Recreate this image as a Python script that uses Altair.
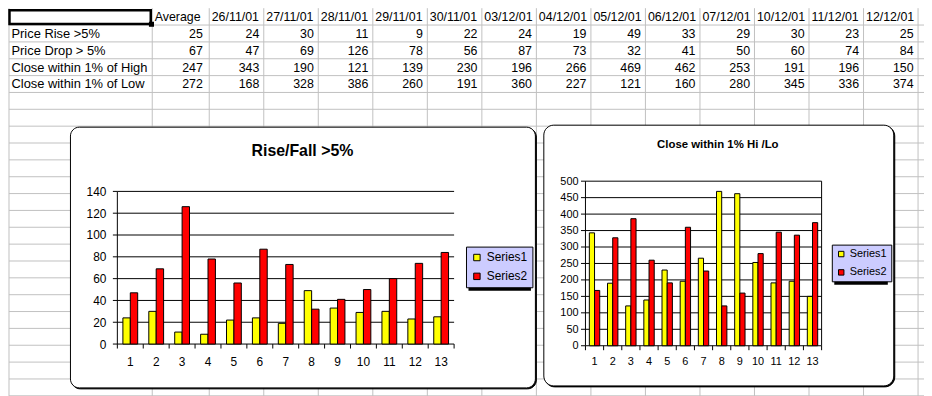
import altair as alt
import pandas as pd

# ---------------- data ----------------
DATES = ["26/11/01", "27/11/01", "28/11/01", "29/11/01", "30/11/01", "03/12/01", "04/12/01",
         "05/12/01", "06/12/01", "07/12/01", "10/12/01", "11/12/01", "12/12/01"]
ROW_LABELS = ["Price Rise >5%", "Price Drop > 5%", "Close within 1% of High", "Close within 1% of Low"]
AVERAGE = [25, 67, 247, 272]
RISE = [24, 30, 11, 9, 22, 24, 19, 49, 33, 29, 30, 23, 25]
DROP = [47, 69, 126, 78, 56, 87, 73, 32, 41, 50, 60, 74, 84]
HIGH = [343, 190, 121, 139, 230, 196, 266, 469, 462, 253, 191, 196, 150]
LOW = [168, 328, 386, 260, 191, 360, 227, 121, 160, 280, 345, 336, 374]
SERIES = ["Series1", "Series2"]
CATS = [str(i + 1) for i in range(len(DATES))]
TITLE1 = "Rise/Fall >5%"
TITLE2 = "Close within 1% Hi /Lo"

FONT = "Liberation Sans"
GRID_GRAY = "#c0c0c0"
W, H = 924, 388

# ---------------- sheet scales (column / row index -> pixels) ----------------
SX = alt.Scale(type="linear", domain=[-1, 0, 1, 14], range=[1, 145.5, 203, 918], nice=False, zero=False)
SY = alt.Scale(type="linear", domain=[0, 23], range=[-1.5, 389.5], nice=False, zero=False)


def sx(v, **kw):
    return alt.XDatum(v, scale=SX, axis=None, **kw)


layers = []

# sheet gridlines
vlines = pd.DataFrame({"c": list(range(-1, 15))})
layers.append(
    alt.Chart(vlines).mark_rule(color=GRID_GRAY, strokeWidth=1).encode(
        x=alt.X("c:Q", scale=SX, axis=None),
        y=alt.YDatum(0, scale=SY, axis=None),
        y2=alt.Y2Datum(23.5),
    )
)
hlines = pd.DataFrame({"r": list(range(1, 24))})
layers.append(
    alt.Chart(hlines).mark_rule(color=GRID_GRAY, strokeWidth=1).encode(
        y=alt.Y("r:Q", scale=SY, axis=None),
        x=alt.XDatum(-1, scale=SX, axis=None),
        x2=alt.X2Datum(14.4),
    )
)

# table text
hdr = pd.DataFrame({"c": list(range(0, 14)), "t": ["Average"] + DATES, "r": [0.5] * 14})
layers.append(
    alt.Chart(hdr).mark_text(align="left", baseline="middle", font=FONT, fontSize=12.5, dx=2.5, dy=0.5,
                             color="black").encode(
        x=alt.X("c:Q", scale=SX, axis=None), y=alt.Y("r:Q", scale=SY, axis=None), text="t:N")
)
lab = pd.DataFrame({"c": [-1] * 4, "t": ROW_LABELS, "r": [1.5, 2.5, 3.5, 4.5]})
layers.append(
    alt.Chart(lab).mark_text(align="left", baseline="middle", font=FONT, fontSize=13, dx=2.5, dy=0.5,
                             color="black").encode(
        x=alt.X("c:Q", scale=SX, axis=None), y=alt.Y("r:Q", scale=SY, axis=None), text="t:N")
)
avg = pd.DataFrame({"c": [1] * 4, "t": [str(v) for v in AVERAGE], "r": [1.5, 2.5, 3.5, 4.5]})
layers.append(
    alt.Chart(avg).mark_text(align="right", baseline="middle", font=FONT, fontSize=12.5, dx=-6.5, dy=0.5,
                             color="black").encode(
        x=alt.X("c:Q", scale=SX, axis=None), y=alt.Y("r:Q", scale=SY, axis=None), text="t:N")
)
cells = []
for ri, row in enumerate([RISE, DROP, HIGH, LOW]):
    for ci, v in enumerate(row):
        cells.append({"c": ci + 2, "r": ri + 1.5, "t": str(v)})
layers.append(
    alt.Chart(pd.DataFrame(cells)).mark_text(align="right", baseline="middle", font=FONT, fontSize=12.5,
                                             dx=-4.5, dy=0.5, color="black").encode(
        x=alt.X("c:Q", scale=SX, axis=None), y=alt.Y("r:Q", scale=SY, axis=None), text="t:N")
)

# active cell A1
layers.append(
    alt.Chart(pd.DataFrame({"a": [0]})).mark_rect(fill=None, stroke="black", strokeWidth=2.5,
                                                  xOffset=0.5, x2Offset=-1.5, yOffset=2, y2Offset=-1).encode(
        x=alt.XDatum(-1, scale=SX, axis=None), x2=alt.X2Datum(0),
        y=alt.YDatum(0, scale=SY, axis=None), y2=alt.Y2Datum(1))
)
layers.append(
    alt.Chart(pd.DataFrame({"a": [0]})).mark_square(size=26, color="black", opacity=1, xOffset=-0.8,
                                                    yOffset=-0.8).encode(
        x=alt.XDatum(0, scale=SX, axis=None), y=alt.YDatum(1, scale=SY, axis=None))
)


def excel_chart(vals1, vals2, box, plot, ymax, ystep, title, title_size, title_pos,
                font_size, ylab_dx, xlab_dy, legend, right_border):
    bx0, by0, bx1, by1, rad = box
    px0, px1, py0, py1 = plot  # py0 = y pixel of 0, py1 = y pixel of ymax
    L = []
    # frame shadow + frame
    L.append(alt.Chart(pd.DataFrame({"a": [0]})).mark_rect(cornerRadius=rad, fill="black", stroke="black",
                                                           strokeWidth=1).encode(
        x=alt.value(bx0 + 1), x2=alt.value(bx1 + 1), y=alt.value(by0 + 1), y2=alt.value(by1 + 1)))
    L.append(alt.Chart(pd.DataFrame({"a": [0]})).mark_rect(cornerRadius=rad, fill="white", stroke="black",
                                                           strokeWidth=1).encode(
        x=alt.value(bx0), x2=alt.value(bx1), y=alt.value(by0), y2=alt.value(by1)))
    # title
    L.append(alt.Chart(pd.DataFrame({"a": [0]})).mark_text(font=FONT, fontSize=title_size, fontWeight="bold",
                                                           align="center", baseline="middle",
                                                           color="black").encode(
        x=alt.value(title_pos[0]), y=alt.value(title_pos[1]), text=alt.value(title)))

    n = len(vals1)
    XL = alt.Scale(type="linear", domain=[0, n], range=[px0, px1], nice=False, zero=False)
    YS = alt.Scale(type="linear", domain=[0, ymax], range=[py0, py1], nice=False, zero=False)
    XB = alt.Scale(type="band", domain=CATS, range=[px0, px1], paddingInner=0.4286, paddingOuter=0.2143)

    yvals = pd.DataFrame({"v": list(range(0, ymax + 1, ystep))})
    yvals["t"] = yvals["v"].astype(str)
    # horizontal gridlines
    L.append(alt.Chart(yvals).mark_rule(color="black", strokeWidth=1).encode(
        y=alt.Y("v:Q", scale=YS, axis=None), x=alt.XDatum(0, scale=XL, axis=None), x2=alt.X2Datum(n)))
    # y ticks
    L.append(alt.Chart(yvals).mark_rule(color="black", strokeWidth=1, x2Offset=-4.5).encode(
        y=alt.Y("v:Q", scale=YS, axis=None), x=alt.XDatum(0, scale=XL, axis=None), x2=alt.X2Datum(0)))
    # y labels
    L.append(alt.Chart(yvals).mark_text(font=FONT, fontSize=font_size, align="right", baseline="middle",
                                        dx=ylab_dx, dy=0.5, color="black").encode(
        y=alt.Y("v:Q", scale=YS, axis=None), x=alt.XDatum(0, scale=XL, axis=None), text="t:N"))
    # y axis line
    L.append(alt.Chart(pd.DataFrame({"a": [0]})).mark_rule(color="black", strokeWidth=1).encode(
        x=alt.XDatum(0, scale=XL, axis=None), y=alt.YDatum(0, scale=YS, axis=None), y2=alt.Y2Datum(ymax)))
    if right_border:
        L.append(alt.Chart(pd.DataFrame({"a": [0]})).mark_rule(color="black", strokeWidth=1).encode(
            x=alt.XDatum(n, scale=XL, axis=None), y=alt.YDatum(0, scale=YS, axis=None), y2=alt.Y2Datum(ymax)))
    # x ticks
    L.append(alt.Chart(pd.DataFrame({"k": list(range(0, n + 1))})).mark_rule(
        color="black", strokeWidth=1, y2Offset=4.5).encode(
        x=alt.X("k:Q", scale=XL, axis=None), y=alt.YDatum(0, scale=YS, axis=None), y2=alt.Y2Datum(0)))
    # x labels
    L.append(alt.Chart(pd.DataFrame({"cat": CATS})).mark_text(
        font=FONT, fontSize=font_size, align="center", baseline="middle", dy=xlab_dy, color="black").encode(
        x=alt.X("cat:N", scale=XB, axis=None), y=alt.YDatum(0, scale=YS, axis=None), text="cat:N"))
    # legend shadow
    lx, ly, lw, lh, lsh, lpad, lsym, lfs, loff, lrow = legend
    L.append(alt.Chart(pd.DataFrame({"a": [0]})).mark_rect(fill="black").encode(
        x=alt.value(lx + lsh), x2=alt.value(lx + lw + lsh), y=alt.value(ly + lsh), y2=alt.value(ly + lh + lsh)))
    # bars
    bars = pd.DataFrame({
        "cat": CATS * 2,
        "series": [SERIES[0]] * n + [SERIES[1]] * n,
        "value": list(vals1) + list(vals2),
    })
    L.append(alt.Chart(bars).mark_bar(stroke="black", strokeWidth=1, opacity=1).encode(
        x=alt.X("cat:N", scale=XB, axis=None),
        xOffset=alt.XOffset("series:N", scale=alt.Scale(domain=SERIES, paddingInner=0, paddingOuter=0)),
        y=alt.Y("value:Q", scale=YS, axis=None),
        color=alt.Color("series:N", scale=alt.Scale(domain=SERIES, range=["#ffff00", "#ff0000"]),
                        legend=alt.Legend(orient="none", legendX=lx, legendY=ly, title=None,
                                          fillColor="#ccccff", strokeColor="black", padding=lpad,
                                          symbolType="square", symbolSize=lsym, symbolStrokeColor="black",
                                          symbolStrokeWidth=1, symbolOpacity=1,
                                          labelFont=FONT, labelFontSize=lfs, labelColor="black",
                                          labelOffset=loff, rowPadding=lrow)),
    ))
    return L


layers += excel_chart(
    RISE, DROP,
    box=(63, 118.5, 532, 381.5, 9),
    plot=(110.3, 450, 337.3, 183.3),
    ymax=140, ystep=20,
    title=TITLE1, title_size=16, title_pos=(297, 143),
    font_size=12, ylab_dx=-11, xlab_dy=18.4,
    legend=(462, 239, 63, 42, 2.5, 5, 42, 12, 4, 7),
    right_border=False,
)
layers += excel_chart(
    HIGH, LOW,
    box=(540.5, 116.5, 893.5, 379.5, 10),
    plot=(582.5, 820.7, 339, 173),
    ymax=500, ystep=50,
    title=TITLE2, title_size=11.5, title_pos=(716, 137),
    font_size=11, ylab_dx=-7, xlab_dy=16,
    legend=(831, 237, 54, 38, 2.5, 4, 30, 11, 3, 6.5),
    right_border=True,
)

chart = alt.layer(*layers).resolve_scale(
    x="independent", y="independent", color="independent", xOffset="independent"
).properties(
    width=W, height=H, autosize=alt.AutoSizeParams(type="none"), padding=0, background="white"
).configure_view(strokeWidth=0)

chart.save("out.html", embed_options={"renderer": "svg", "actions": False})
